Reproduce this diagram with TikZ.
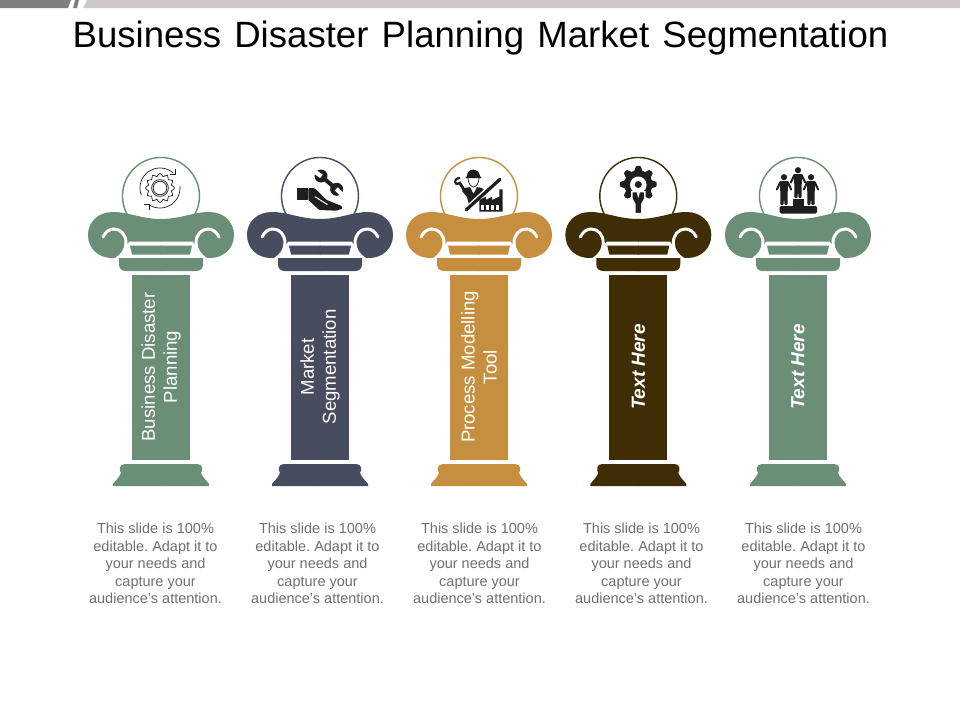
\documentclass[tikz,border=0pt]{standalone}
\usepackage{fontspec}
\setmainfont{Liberation Sans}
\definecolor{cgreen}{HTML}{6B8E76}
\definecolor{cslate}{HTML}{474C5E}
\definecolor{cgold}{HTML}{C68F3F}
\definecolor{cbrown}{HTML}{3F2E05}
\definecolor{icon}{HTML}{1E1E1E}
\definecolor{desc}{HTML}{6F6F6F}
\definecolor{barlight}{HTML}{CDC9C9}
\definecolor{bardark}{HTML}{7F7F7F}
\tikzset{
  title/.style={font=\fontsize{36.6}{40}\selectfont,text=black,inner sep=0},
  collabel/.style={font=\fontsize{18.6}{22}\selectfont,text=white,rotate=90,align=center,inner sep=0},
  colhere/.style={font=\fontsize{19}{22}\selectfont\bfseries\itshape,text=white,rotate=90,align=center,inner sep=0},
  desctext/.style={font=\fontsize{14.5}{17.6}\selectfont\frenchspacing,text=desc,align=center,inner sep=0},
  iconline/.style={draw=icon,line width=0.7pt,fill=none},
}
\newcommand{\halfcap}[1]{%
  \fill[#1] (0.5,219) .. controls (-20,219) and (-32,212) .. (-48,212)
    .. controls (-63,212) and (-73,222) .. (-73,235)
    .. controls (-73,249) and (-62,258) .. (-49,258)
    .. controls (-40,258) and (-35,252) .. (-35,246)
    -- (-32,241.7) -- (0.5,241.7) -- cycle;
  \draw[white,line width=3pt,line cap=round] (-58,237)
    .. controls (-55,231) and (-51,229) .. (-47,229)
    .. controls (-40,229) and (-35,235) .. (-35,243)
    .. controls (-35,250) and (-39,255) .. (-44,258.5);
  \fill[#1] (0.5,245.7) -- (-31,245.7) -- (-29,254.5) -- (0.5,254.5) -- cycle;
  \fill[#1] (0.5,258) -- (-42,258) -- (-42,264) .. controls (-42,268) and (-40,271) .. (-35,271) -- (0.5,271) -- cycle;
  \fill[#1] (0.5,464) -- (-36,464) .. controls (-42,464) and (-42,470) .. (-40,473)
    .. controls (-42,478) and (-46,481) .. (-48,484) -- (-48,486) -- (0.5,486) -- cycle;
}
\newcommand{\pillar}[2]{%
  \begin{scope}[shift={(#1,0)}]
    \draw[#2,line width=1.4pt,fill=white] (-30.9,219) arc[start angle=143.3,end angle=396.7,radius=38.5];
    \halfcap{#2}
    \begin{scope}[xscale=-1]\halfcap{#2}\end{scope}
    \fill[#2] (-29,275) rectangle (29,460);
  \end{scope}}
\newcommand{\person}[3]{% x, shoulder y, feet y
  \fill[icon] (#1,#2-4.8) circle (3.1);
  \fill[icon,rounded corners=1pt] (#1-4.4,#2-0.8) -- (#1+4.4,#2-0.8) -- (#1+3.6,#2+11) -- (#1+3.6,#3) -- (#1+0.4,#3) -- (#1,#2+12) -- (#1-0.4,#3) -- (#1-3.6,#3) -- (#1-3.6,#2+11) -- cycle;
  \draw[icon,line width=2pt,line cap=round] (#1-3.6,#2) -- (#1-7.2,#2+7.5);
  \draw[icon,line width=2pt,line cap=round] (#1+3.6,#2) -- (#1+7.2,#2+7.5);
}
\begin{document}
\begin{tikzpicture}[x=1pt,y=-1pt]
\useasboundingbox (0,0) rectangle (960,720);
\fill[white] (0,0) rectangle (960,720);
% top bar
\fill[bardark] (0,0) -- (71,0) -- (68,8) -- (0,8) -- cycle;
\fill[bardark] (75,0) -- (79,0) -- (77,8) -- (73,8) -- cycle;
\fill[barlight] (87,0) -- (960,0) -- (960,8) -- (83,8) -- cycle;
\node[title] (heading) at (480.5,38) {\spaceskip=13.2pt Business Disaster Planning Market Segmentation};
% pillars
\pillar{161}{cgreen}
\pillar{320}{cslate}
\pillar{479}{cgold}
\pillar{638.3}{cbrown}
\pillar{798}{cgreen}
% labels
\node[collabel] (la) at (161,367) {Business Disaster\\Planning};
\node[collabel] (lb) at (320,367) {Market\\Segmentation};
\node[collabel] (lc) at (479,367) {Process Modelling\\Tool};
\node[colhere] (ld) at (638.3,367) {Text Here};
\node[colhere] (le) at (798,367) {Text Here};
% descriptions
\node[desctext] (da) at (155.5,563.5) {This slide is 100\%\\editable. Adapt it to\\your needs and\\capture your\\audience's attention.};
\node[desctext] (db) at (317.5,563.5) {This slide is 100\%\\editable. Adapt it to\\your needs and\\capture your\\audience's attention.};
\node[desctext] (dc) at (479.5,563.5) {This slide is 100\%\\editable. Adapt it to\\your needs and\\capture your\\audience's attention.};
\node[desctext] (dd) at (641.5,563.5) {This slide is 100\%\\editable. Adapt it to\\your needs and\\capture your\\audience's attention.};
\node[desctext] (de) at (803.5,563.5) {This slide is 100\%\\editable. Adapt it to\\your needs and\\capture your\\audience's attention.};
% icon 1: gear with arrows
\begin{scope}[shift={(160,188)}]
  \draw[iconline] plot[smooth cycle,samples=48,domain=0:352.5] ({(13.2+1.5*cos(12*\x))*cos(\x)},{(13.2+1.5*cos(12*\x))*sin(\x)});
  \draw[iconline] (0,0) circle (8.4);
  \draw[iconline] (0,0) circle (6.8);
  \draw[iconline] plot[smooth,samples=24,domain=160:312] ({20*cos(\x)},{20*sin(\x)});
  \draw[iconline] plot[smooth,samples=24,domain=-5:125] ({20*cos(\x)},{20*sin(\x)});
  \draw[iconline] (15,-19.5) -- (15,-13.5) -- (9.5,-13.5);
  \draw[iconline] (-11,22) -- (-11,16.5) -- (-16,16.5);
\end{scope}
% icon 2: hand and wrench
\begin{scope}[shift={(320,0)}]
  \fill[icon] (-23.5,188) rectangle (-12.5,200);
  \fill[icon,rounded corners=1pt] (-11.7,188) -- (-5,188.3) -- (6.7,200) -- (21.7,206) -- (22.7,208.3) -- (16.7,210.7) -- (-0.7,210) -- (-11.7,200) -- cycle;
  \draw[white,line width=1pt,line cap=round] (-5,196.7) -- (7.3,204.5);
  \draw[icon,line width=4pt] (1,176) -- (16.7,189.3);
  \fill[icon] (1,176) circle (6.5);
  \fill[icon] (16.7,189.3) circle (6.5);
  \fill[white,rotate around={-35:(1,176)}] (-8,173.8) rectangle (1.5,178.2);
  \fill[white,rotate around={-45:(16.7,189.3)}] (16,187.1) rectangle (25,191.5);
\end{scope}
% icon 3: engineer, slash, factory
\begin{scope}[shift={(479,0)}]
  \fill[icon] (-12,176) .. controls (-12,167.5) and (0,167.5) .. (1,176) -- (2.5,178) -- (-13.5,178) -- cycle;
  \draw[icon,line width=0.7pt] (-11,178) .. controls (-11,183) and (-8,187) .. (-5.5,187) .. controls (-3,187) and (0,183) .. (0,178);
  \fill[icon] (-14,188) -- (-9,187) -- (-5.5,194) -- (-2,187) -- (3,188) -- (6.5,192) -- (-7,205) -- (-10,205) -- (-12,197) -- (-17,191) -- cycle;
  \draw[icon,line width=2.8pt] (-20,182) -- (-14,191);
  \draw[icon,line width=2.2pt] (-19,178) .. controls (-24,178) and (-25,182) .. (-22.5,184) -- (-18,183);
  \draw[white,line width=6pt] (22,178) -- (-14,211);
  \draw[icon,line width=3.2pt,line cap=round] (21,179.3) -- (-13,210);
  \fill[icon] (0.3,211.7) -- (0.3,200) -- (7,196.7) -- (7,200) -- (13,196.7) -- (13,200) -- (20.3,196.7) -- (20.3,189.3) -- (23.7,189.3) -- (23.7,211.7) -- cycle;
  \foreach \k in {2.3,7.3,12.3,17.3} \fill[white] (\k,205) rectangle +(3,5);
\end{scope}
% icon 4: gear and person
\begin{scope}[shift={(638.3,0)}]
  \fill[icon] plot[smooth,samples=97,domain=0:360] ({(16.2+2.2*max(min(1.6*cos(8*\x),1),-1))*cos(\x)},{184.3+(16.2+2.2*max(min(1.6*cos(8*\x),1),-1))*sin(\x)}) -- cycle;
  \fill[white] (0,184.8) circle (8.3);
  \fill[icon] (0,184.5) circle (3.5);
  \draw[white,line width=1.4pt,fill=icon] (-6.5,191.7) -- (6.5,191.7) -- (6.5,197) .. controls (6.5,201) and (3.5,202) .. (3.5,204) -- (3.5,213.5) -- (-3.5,213.5) -- (-3.5,204) .. controls (-3.5,202) and (-6.5,201) .. (-6.5,197) -- cycle;
  \fill[white] (-1.8,191.5) -- (1.8,191.5) -- (0,198) -- cycle;
\end{scope}
% icon 5: podium
\begin{scope}[shift={(798,0)}]
  \fill[icon,rounded corners=1.5pt] (-18.5,206) rectangle (19,213.5);
  \fill[icon] (-5,199) rectangle (5.5,206);
  \person{0}{175}{198}
  \person{-14}{182}{205}
  \person{13}{182}{205}
\end{scope}
\end{tikzpicture}
\end{document}
